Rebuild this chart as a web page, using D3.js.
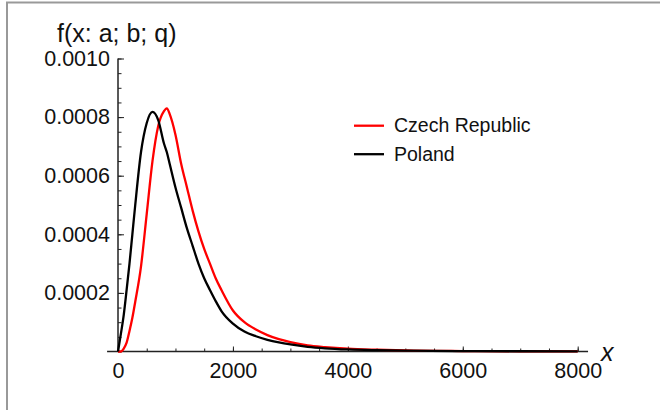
<!DOCTYPE html>
<html>
<head>
<meta charset="utf-8">
<script src="https://cdn.jsdelivr.net/npm/d3@7"></script>
<style>
  body { margin: 0; background: #fff; }
  svg { display: block; font-family: "Liberation Sans", Arial, sans-serif; }
  .tick text { fill: #111; }
</style>
</head>
<body>
<svg id="chart" width="660" height="410"></svg>
<script>
// income grid (x) and the two density curves
const incomeX = [0, 50, 100, 150, 200, 250, 300, 400, 500, 600, 700, 800, 850, 900, 1000, 1100, 1200, 1300, 1400, 1500,
  1600, 1700, 1800, 2000, 2200, 2400, 2600, 2800, 3000, 3300, 3600, 4000, 4500, 5000, 6000, 7000, 8000];

const poland = [0, 0.00006, 0.000125, 0.00021, 0.0003, 0.0004, 0.0005, 0.00068, 0.00078, 0.000818, 0.00079, 0.00071, 0.00068,
  0.00064, 0.00056, 0.00049, 0.00042, 0.00036, 0.0003, 0.00025, 0.00021, 0.000172, 0.000138, 0.000095, 0.000068,
  0.000052, 0.00004, 0.000031, 0.000024, 0.000016, 0.000011, 0.000007, 0.0000045, 0.000003, 0.0000015, 0.0000008, 0.0000005];

const czech = [0, 0, 0.00001, 0.00003, 0.00007, 0.000115, 0.00017, 0.00029, 0.00047, 0.00065, 0.00077, 0.00082, 0.00083,
  0.00081, 0.00074, 0.00064, 0.00056, 0.00048, 0.00041, 0.00035, 0.0003, 0.00025, 0.00021, 0.00014, 0.0001,
  0.000075, 0.000056, 0.000042, 0.000032, 0.000021, 0.000015, 0.0000095, 0.000006, 0.0000035, 0.0000016, 0.0000008, 0.0000004];

const seriesNames = ['Czech Republic', 'Poland'];
const seriesColors = ['#ff0000', '#000000'];

const xMajor = [0, 2000, 4000, 6000, 8000];
const yMajor = [0.0002, 0.0004, 0.0006, 0.0008, 0.0010];

const FONT_SIZE = 21.5;
const $svg = d3.select('#chart');

const scaleX = d3.scaleLinear().domain([0, 8000]).range([118, 577.7]);
const scaleY = d3.scaleLinear().domain([0, 0.001]).range([351.5, 58.5]);

// grey frame
$svg.append('path')
  .attr('d', 'M7,410 V2.5 H660')
  .attr('fill', 'none')
  .attr('stroke', '#999')
  .attr('stroke-width', 2);

// AXES
const $gAxis = $svg.append('g').attr('class', 'g-axis');

$gAxis.append('g')
  .attr('transform', `translate(0,${scaleY(0)})`)
  .call(d3.axisBottom(scaleX).tickValues(d3.range(0, 8001, 500)).tickSize(-3).tickFormat(''));

$gAxis.append('g')
  .attr('transform', `translate(0,${scaleY(0)})`)
  .call(d3.axisBottom(scaleX).tickValues(xMajor).tickSize(-5).tickPadding(11.5).tickFormat(d3.format('d')));

$gAxis.append('g')
  .attr('transform', `translate(${scaleX(0)},0)`)
  .call(d3.axisLeft(scaleY).tickValues(d3.range(0, 0.001001, 0.00005)).tickSize(-3.5).tickFormat(''));

$gAxis.append('g')
  .attr('transform', `translate(${scaleX(0)},0)`)
  .call(d3.axisLeft(scaleY).tickValues(yMajor).tickSize(-6).tickPadding(8).tickFormat(d3.format('.4f')));

$gAxis.selectAll('.domain').remove();
$gAxis.selectAll('.tick line').attr('stroke', '#222').attr('stroke-width', 1);
$gAxis.selectAll('.tick text').attr('font-size', FONT_SIZE).attr('font-family', null);

// axis lines
$gAxis.append('line')
  .attr('x1', scaleX(-190)).attr('x2', scaleX(8180))
  .attr('y1', scaleY(0)).attr('y2', scaleY(0))
  .attr('stroke', '#222').attr('stroke-width', 1.5);

$gAxis.append('line')
  .attr('x1', scaleX(0)).attr('x2', scaleX(0))
  .attr('y1', scaleY(0.001)).attr('y2', scaleY(0))
  .attr('stroke', '#222').attr('stroke-width', 1.5);

// axis labels
$svg.append('text')
  .text('f(x: a; b; q)')
  .attr('x', 57).attr('y', 41.5)
  .attr('font-size', 25)
  .attr('fill', '#111');

$svg.append('text')
  .text('x')
  .attr('x', 601).attr('y', 360.5)
  .attr('font-size', 25)
  .attr('font-style', 'italic')
  .attr('fill', '#111');

// CURVES
const line = d3.line()
  .x(d => scaleX(d[0]))
  .y(d => scaleY(d[1]))
  .curve(d3.curveMonotoneX);

const $gVis = $svg.append('g').attr('class', 'g-vis');

[czech, poland].forEach((values, i) => {
  $gVis.append('path')
    .datum(incomeX.map((x, j) => [x, values[j]]))
    .attr('d', line)
    .attr('fill', 'none')
    .attr('stroke', seriesColors[i])
    .attr('stroke-width', 2.3)
    .attr('stroke-linejoin', 'round');
});

// LEGEND
const $legend = $svg.append('g').attr('class', 'legend');
seriesNames.forEach((name, i) => {
  const y = 125.7 + i * 28.5;
  $legend.append('line')
    .attr('x1', 354).attr('x2', 384)
    .attr('y1', y).attr('y2', y)
    .attr('stroke', seriesColors[i])
    .attr('stroke-width', 2.3);
  $legend.append('text')
    .text(name)
    .attr('x', 394).attr('y', y + 6.5)
    .attr('font-size', 19.5)
    .attr('fill', '#111');
});
</script>
</body>
</html>
